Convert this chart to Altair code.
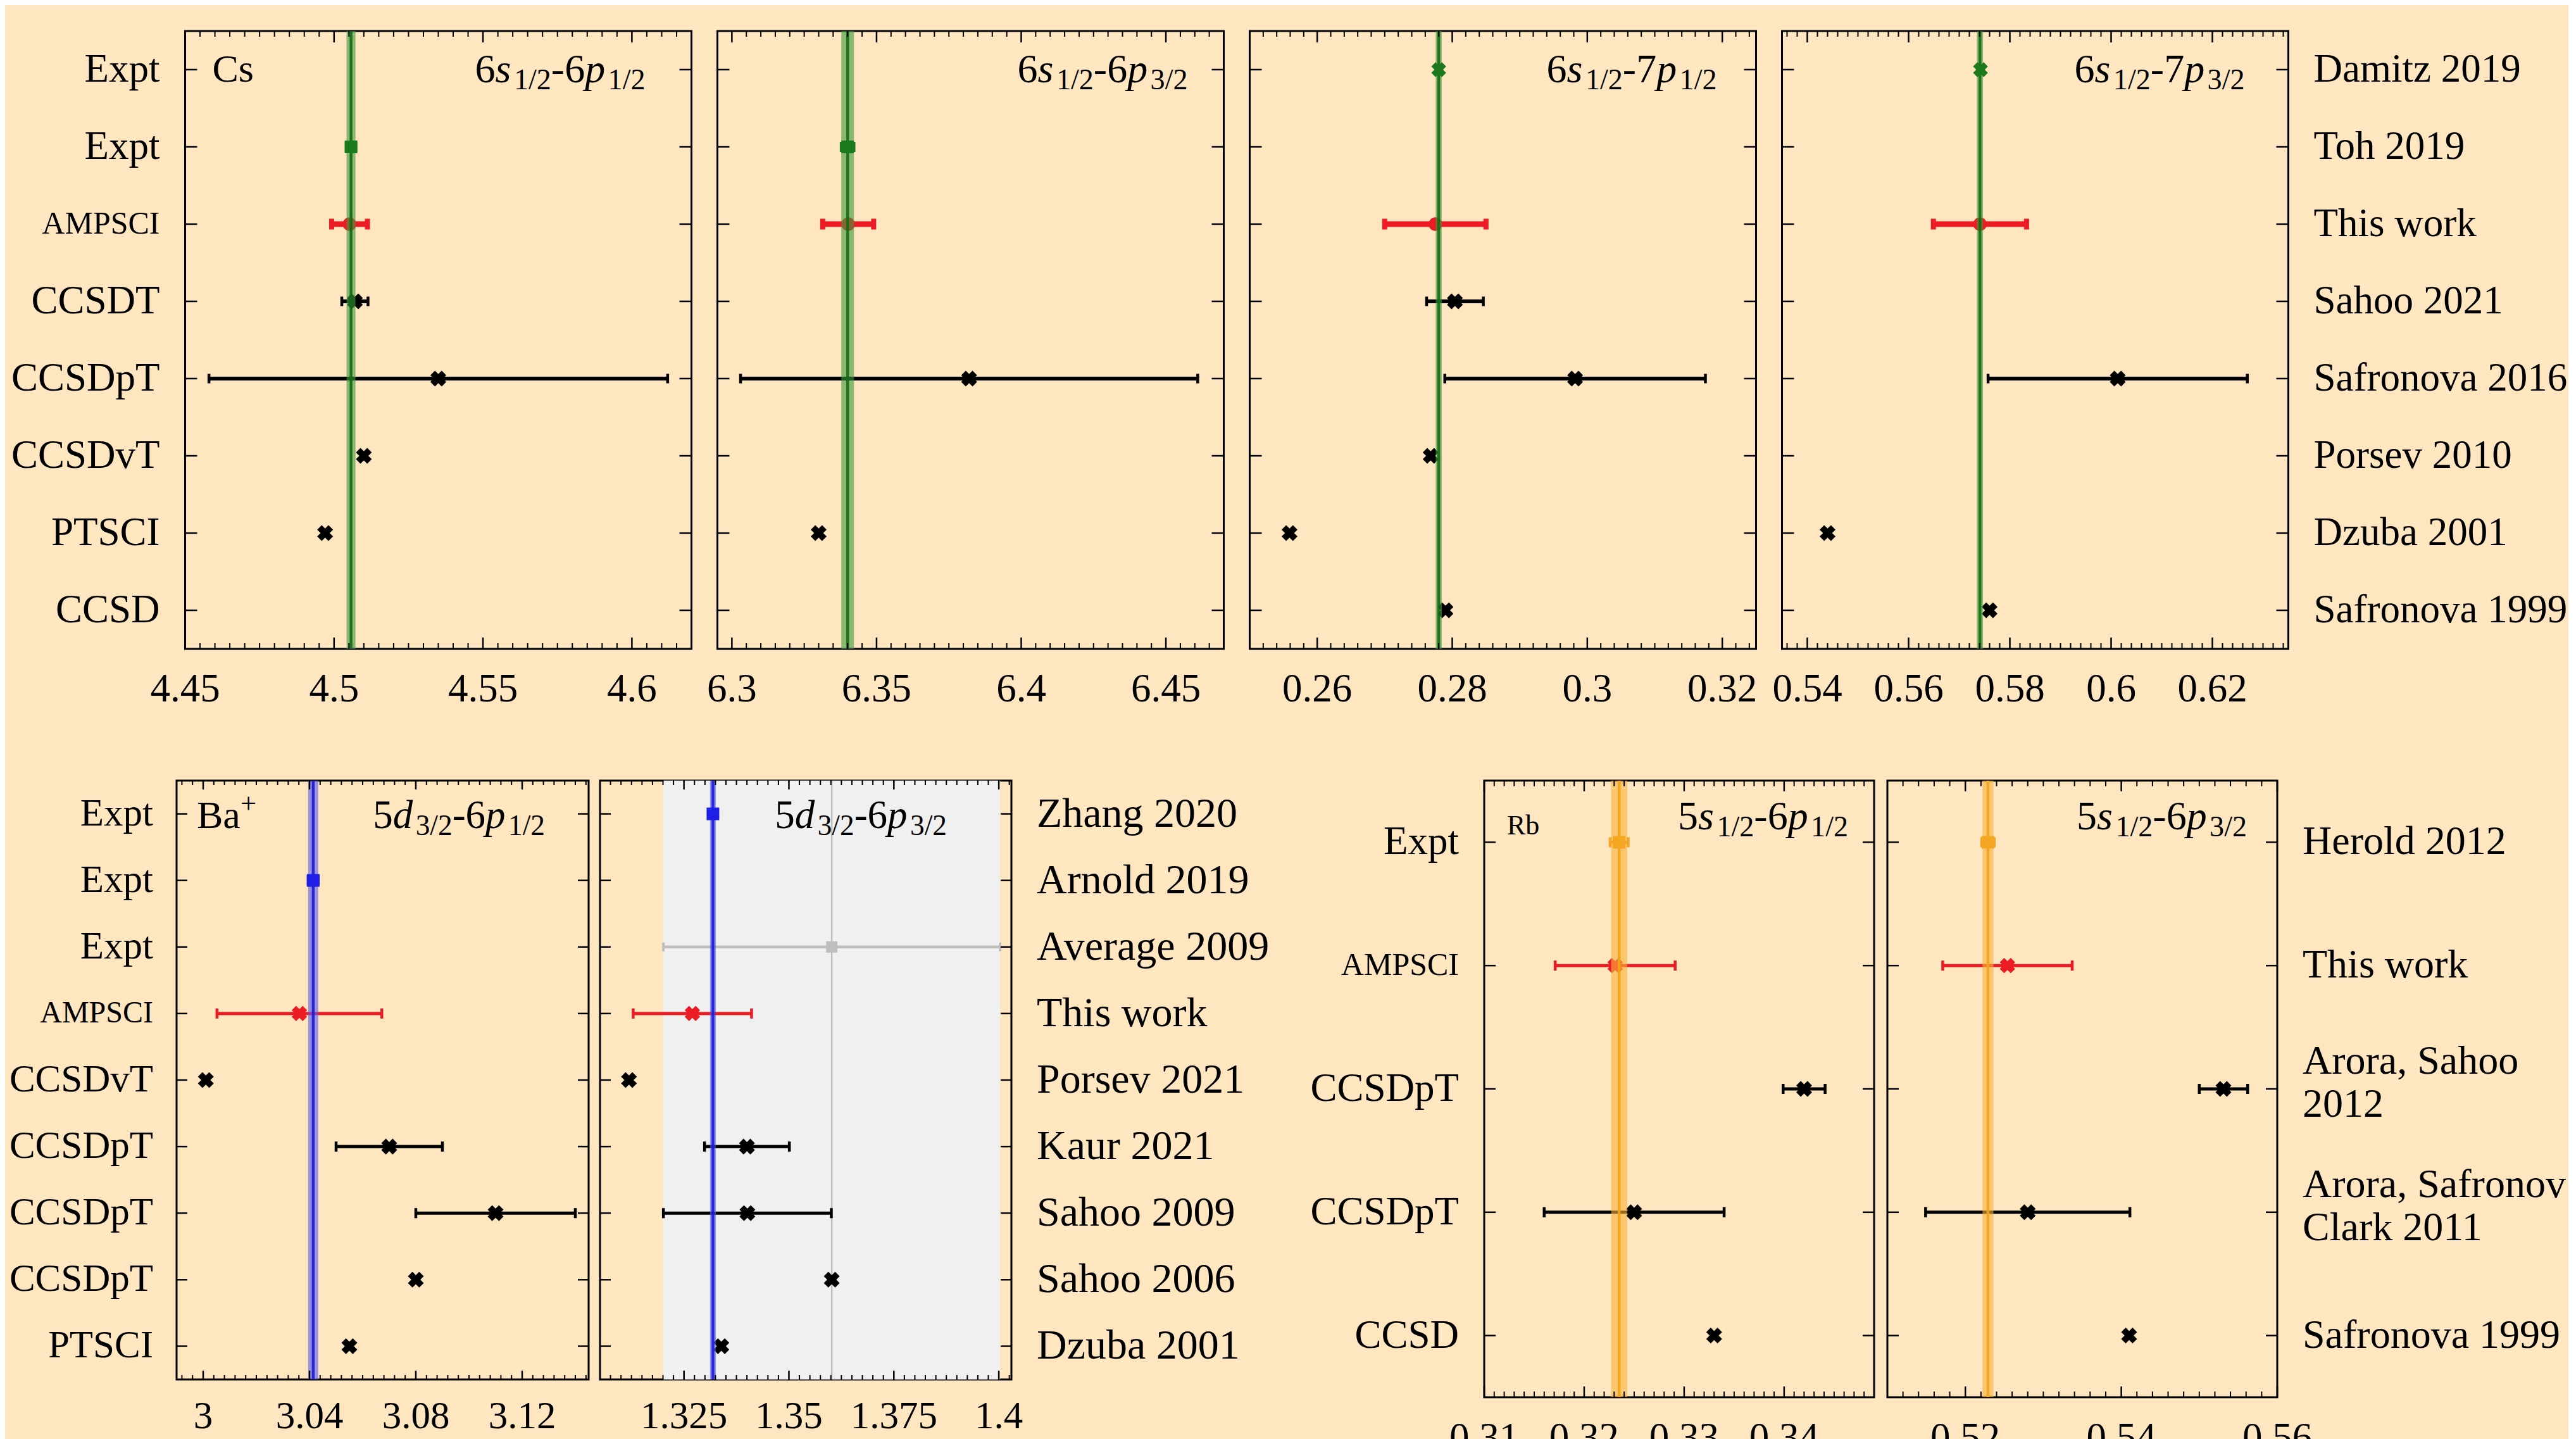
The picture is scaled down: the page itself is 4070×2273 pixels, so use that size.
import math
import pandas as pd
import altair as alt

FONT = "Liberation Serif"
BG = "#FDE6C0"
RED = "#EC1C24"
GREEN = dict(band="#3E9A3E", line="#136B13", pt="#1B7A1B")
BLUE = dict(band="#5A5AF0", line="#1A1AD8", pt="#1E1EE6")
ORANGE = dict(band="#F8B23A", line="#F2A516", pt="#F5A623")
GREY = "#BEBEBE"
SHADE = "#F0F0F0"

# ---------------- data ----------------
cs_methods = ["Expt", "Expt", "AMPSCI", "CCSDT", "CCSDpT", "CCSDvT", "PTSCI", "CCSD"]
cs_refs = ["Damitz 2019", "Toh 2019", "This work", "Sahoo 2021", "Safronova 2016",
           "Porsev 2010", "Dzuba 2001", "Safronova 1999"]
cs_kind = ["exptx", "expt", "ampsci", "theory", "theory", "theory", "theory", "theory"]

cs_6s6p1_val = [None, 4.5057, 4.5052, 4.5070, 4.535, 4.510, 4.497, None]
cs_6s6p1_err = [0, 0.0016, 0.0060, 0.0044, 0.077, 0, 0, 0]
cs_6s6p1_band = [4.5057, 0.0015]

cs_6s6p3_val = [None, 6.3400, 6.3402, None, 6.382, None, 6.330, None]
cs_6s6p3_err = [0, 0.0022, 0.0088, 0, 0.079, 0, 0, 0]
cs_6s6p3_band = [6.3400, 0.0022]

cs_6s7p1_val = [0.2780, None, 0.2775, 0.2804, 0.2982, 0.2768, 0.2559, 0.2790]
cs_6s7p1_err = [0.00045, 0, 0.0075, 0.0042, 0.0193, 0, 0, 0]
cs_6s7p1_band = [0.2780, 0.00045]

cs_6s7p3_val = [0.5742, None, 0.5741, None, 0.6013, None, 0.5440, 0.5760]
cs_6s7p3_err = [0.0006, 0, 0.0092, 0, 0.0256, 0, 0, 0]
cs_6s7p3_band = [0.5741, 0.0006]

ba_methods = ["Expt", "Expt", "Expt", "AMPSCI", "CCSDvT", "CCSDpT", "CCSDpT", "CCSDpT", "PTSCI"]
ba_refs = ["Zhang 2020", "Arnold 2019", "Average 2009", "This work", "Porsev 2021",
           "Kaur 2021", "Sahoo 2009", "Sahoo 2006", "Dzuba 2001"]
ba_kind = ["expt", "expt", "avg", "ampsci", "theory", "theory", "theory", "theory", "theory"]

ba_5d6p1_val = [None, 3.0414, None, 3.0362, 3.001, 3.070, 3.110, 3.080, 3.055]
ba_5d6p1_err = [0, 0.0019, 0, 0.031, 0, 0.020, 0.030, 0, 0]
ba_5d6p1_band = [3.0414, 0.0019]

ba_5d6p3_val = [1.3319, None, 1.3602, 1.3270, 1.3119, 1.3400, 1.3401, 1.3602, 1.3339]
ba_5d6p3_err = [0.0006, 0, 0.0401, 0.0141, 0, 0.0101, 0.0200, 0, 0]
ba_5d6p3_band = [1.3319, 0.0007]

rb_methods = ["Expt", "AMPSCI", "CCSDpT", "CCSDpT", "CCSD"]
rb_refs = ["Herold 2012", "This work", "Arora, Sahoo\n2012",
           "Arora, Safronova,\nClark 2011", "Safronova 1999"]
rb_kind = ["expt", "ampsci", "theory", "theory", "theory"]

rb_5s6p1_val = [0.3235, 0.3231, 0.3420, 0.3250, 0.3330]
rb_5s6p1_err = [0.0009, 0.0060, 0.0021, 0.0090, 0]
rb_5s6p1_band = [0.3235, 0.0008]

rb_5s6p3_val = [0.5229, 0.5254, 0.5531, 0.5280, 0.5410]
rb_5s6p3_err = [0.0008, 0.0083, 0.0031, 0.0131, 0]
rb_5s6p3_band = [0.5229, 0.0007]

# axis domains, tick labels and minor-tick steps
cs1_dom, cs1_major, cs1_step = [4.45, 4.62], ["4.45", "4.5", "4.55", "4.6"], 0.005
cs2_dom, cs2_major, cs2_step = [6.295, 6.47], ["6.3", "6.35", "6.4", "6.45"], 0.005
cs3_dom, cs3_major, cs3_step = [0.25, 0.325], ["0.26", "0.28", "0.3", "0.32"], 0.002
cs4_dom, cs4_major, cs4_step = [0.535, 0.635], ["0.54", "0.56", "0.58", "0.6", "0.62"], 0.002
ba1_dom, ba1_major, ba1_step = [2.99, 3.145], ["3", "3.04", "3.08", "3.12"], 0.004
ba2_dom, ba2_major, ba2_step = [1.305, 1.403], ["1.325", "1.35", "1.375", "1.4"], 0.0025
rb1_dom, rb1_major, rb1_step = [0.31, 0.349], ["0.31", "0.32", "0.33", "0.34"], 0.001
rb2_dom, rb2_major, rb2_step = [0.51, 0.56], ["0.52", "0.54", "0.56"], 0.002

ONE = pd.DataFrame({"k": [0]})
PAGE_RIGHT = 4061  # keep right-hand labels inside the window

# Times / Liberation Serif advance widths (em)
ROMAN_W = {"/": 0.278, "-": 0.333, "+": 0.564, "C": 0.667, "s": 0.389, "B": 0.667,
           "a": 0.444, "R": 0.667, "b": 0.5}
ITAL_W = {"s": 0.389, "p": 0.5, "d": 0.5}


def char_w(c, ital):
    if c.isdigit():
        return 0.5
    return (ITAL_W if ital else ROMAN_W).get(c, 0.5)


def rich_text(pieces, x, y, size, anchor="right"):
    items = []
    for t, ital, lvl in pieces:
        fs = size if lvl == 0 else size * 0.72
        w = sum(char_w(c, ital) for c in t) * fs + (0.07 * size if ital else 0)
        items.append((t, ital, fs, w, lvl))
    total = sum(it[3] for it in items)
    cur = x - total if anchor == "right" else x
    layers = []
    for t, ital, fs, w, lvl in items:
        yy = y + (0.17 * size if lvl < 0 else (-0.38 * size if lvl > 0 else 0))
        layers.append(
            alt.Chart(ONE).mark_text(
                text=t, font=FONT, fontSize=fs,
                fontStyle="italic" if ital else "normal",
                align="left", baseline="alphabetic", color="black"
            ).encode(x=alt.value(cur), y=alt.value(yy))
        )
        cur += w
    return layers


def transition(a, la, b, lb, sub1, sub2):
    return [(a, False, 0), (la, True, 0), (sub1, False, -1),
            ("-" + b, False, 0), (lb, True, 0), (sub2, False, -1)]


def minor_ticks(dom, step, major):
    k0 = math.ceil(dom[0] / step - 1e-9)
    k1 = math.floor(dom[1] / step + 1e-9)
    vals = [round(k * step, 6) for k in range(k0, k1 + 1)]
    return [v for v in vals if all(abs(v - m) > step * 0.01 for m in major)]


def make_panel(vals, errs, kinds, band, colors, dom, major_lab, step, W, H, st,
               left=None, right=None, right_x=None, annots=(), shade=False):
    n = len(vals)
    major = [float(s) for s in major_lab]
    xs = alt.Scale(domain=dom, nice=False, zero=False)
    ys = alt.Scale(domain=[-0.5, n - 0.5], reverse=True, nice=False, zero=False)

    def X(f):
        return alt.X(f + ":Q", scale=xs, axis=None)

    Y = alt.Y("r:Q", scale=ys, axis=None)

    rows = []
    for i, (v, e, k) in enumerate(zip(vals, errs, kinds)):
        if v is None:
            continue
        rows.append(dict(r=i, v=v, e=e, lo=v - e, hi=v + e, kind=k))
    df = pd.DataFrame(rows)
    theory = df[df.kind == "theory"]
    theory_e = theory[theory.e > 0]
    amp = df[df.kind == "ampsci"]
    expt = df[df.kind.isin(["expt", "exptx"])]
    expt_sq = df[df.kind == "expt"]
    expt_x = df[df.kind == "exptx"]
    avg = df[df.kind == "avg"]
    bdf = pd.DataFrame({"c": [band[0]], "lo": [band[0] - band[1]], "hi": [band[0] + band[1]]})

    layers = []
    if shade and len(avg):
        layers.append(alt.Chart(avg).mark_rect(color=SHADE).encode(x=X("lo"), x2="hi"))
        layers.append(alt.Chart(avg).mark_rule(color=GREY, strokeWidth=2.5).encode(x=X("v")))
    # black theory error bars and markers
    layers.append(alt.Chart(theory_e).mark_rule(color="black", strokeWidth=st["err_w"]).encode(
        x=X("lo"), x2="hi", y=Y))
    for f in ("lo", "hi"):
        layers.append(alt.Chart(theory_e).mark_tick(
            orient="vertical", size=st["cap"], thickness=st["cap_w"], color="black", opacity=1
        ).encode(x=X(f), y=Y))
    layers.append(alt.Chart(theory).mark_point(
        shape="cross", angle=45, filled=True, size=640, color="black", opacity=1
    ).encode(x=X("v"), y=Y))
    # red AMPSCI
    layers.append(alt.Chart(amp).mark_rule(color=RED, strokeWidth=st["red_w"]).encode(
        x=X("lo"), x2="hi", y=Y))
    for f in ("lo", "hi"):
        layers.append(alt.Chart(amp).mark_tick(
            orient="vertical", size=st["red_cap"], thickness=st["red_cap_w"], color=RED, opacity=1
        ).encode(x=X(f), y=Y))
    if st["red_marker"] == "circle":
        layers.append(alt.Chart(amp).mark_point(
            shape="circle", filled=True, size=460, color=RED, opacity=1).encode(x=X("v"), y=Y))
    else:
        layers.append(alt.Chart(amp).mark_point(
            shape="cross", angle=45, filled=True, size=600, color=RED, opacity=1
        ).encode(x=X("v"), y=Y))
    # grey average
    if len(avg):
        layers.append(alt.Chart(avg).mark_rule(color=GREY, strokeWidth=4.5).encode(
            x=X("lo"), x2="hi", y=Y))
        for f in ("lo", "hi"):
            layers.append(alt.Chart(avg).mark_tick(
                orient="vertical", size=14, thickness=4, color=GREY, opacity=1
            ).encode(x=X(f), y=Y))
        layers.append(alt.Chart(avg).mark_point(
            shape="square", filled=True, size=320, color=GREY, opacity=1).encode(x=X("v"), y=Y))
    # experimental band
    layers.append(alt.Chart(bdf).mark_rect(color=colors["band"], opacity=0.6).encode(
        x=X("lo"), x2="hi"))
    layers.append(alt.Chart(bdf).mark_rule(color=colors["line"], strokeWidth=4.5, opacity=0.9).encode(
        x=X("c")))
    # experimental points
    layers.append(alt.Chart(expt).mark_rule(color=colors["pt"], strokeWidth=5).encode(
        x=X("lo"), x2="hi", y=Y))
    for f in ("lo", "hi"):
        layers.append(alt.Chart(expt).mark_tick(
            orient="vertical", size=16, thickness=4.5, color=colors["pt"], opacity=1
        ).encode(x=X(f), y=Y))
    layers.append(alt.Chart(expt_sq).mark_point(
        shape="square", filled=True, size=400, color=colors["pt"], opacity=1).encode(x=X("v"), y=Y))
    layers.append(alt.Chart(expt_x).mark_point(
        shape="cross", angle=45, filled=True, size=560, color=colors["pt"], opacity=1
    ).encode(x=X("v"), y=Y))

    # inward ticks
    maj = pd.DataFrame({"v": major, "lab": major_lab})
    mnr = pd.DataFrame({"v": minor_ticks(dom, step, major)})
    Lmaj, Lmin = st["Lmaj"], st["Lmin"]
    for yy in (H - Lmaj / 2, Lmaj / 2):
        layers.append(alt.Chart(maj).mark_tick(orient="vertical", size=Lmaj, thickness=2.5,
                                               color="black", opacity=1).encode(
            x=X("v"), y=alt.value(yy)))
    for yy in (H - Lmin / 2, Lmin / 2):
        layers.append(alt.Chart(mnr).mark_tick(orient="vertical", size=Lmin, thickness=2,
                                               color="black", opacity=1).encode(
            x=X("v"), y=alt.value(yy)))
    yt = pd.DataFrame({"r": list(range(n))})
    Ly = st["Ly"]
    for xx in (Ly / 2, W - Ly / 2):
        layers.append(alt.Chart(yt).mark_tick(orient="horizontal", size=Ly, thickness=2.5,
                                              color="black", opacity=1).encode(
            y=Y, x=alt.value(xx)))

    # x tick labels
    layers.append(alt.Chart(maj).mark_text(
        font=FONT, fontSize=st["tick_fs"], align="center", baseline="alphabetic", color="black"
    ).encode(x=X("v"), y=alt.value(H + st["tick_off"]), text="lab:N"))

    # row labels
    if left is not None:
        ldf = pd.DataFrame({"r": list(range(n)), "t": left})
        normal = ldf[ldf.t != "AMPSCI"]
        small = ldf[ldf.t == "AMPSCI"]
        layers.append(alt.Chart(normal).mark_text(
            font=FONT, fontSize=st["lab_fs"], align="right", baseline="middle", color="black"
        ).encode(y=Y, x=alt.value(-st["lab_off"]), text="t:N"))
        layers.append(alt.Chart(small).mark_text(
            font=FONT, fontSize=st["amp_fs"], align="right", baseline="middle", color="black"
        ).encode(y=Y, x=alt.value(-st["lab_off"]), text="t:N"))
    if right is not None:
        rdf = pd.DataFrame({"r": list(range(n)), "t": right})
        multi = rdf[rdf.t.str.contains("\n")]
        single = rdf[~rdf.t.str.contains("\n")]
        lim = PAGE_RIGHT - (right_x + 40)
        layers.append(alt.Chart(single).mark_text(
            font=FONT, fontSize=st["ref_fs"], align="left", baseline="middle", color="black",
            limit=lim, ellipsis="\u200b"
        ).encode(y=Y, x=alt.value(W + 40), text="t:N"))
        layers.append(alt.Chart(multi).mark_text(
            font=FONT, fontSize=st["ref_fs"], align="left", baseline="middle", color="black",
            lineBreak="\n", lineHeight=68, dy=-43, limit=lim, ellipsis="\u200b"
        ).encode(y=Y, x=alt.value(W + 40), text="t:N"))

    for a in annots:
        layers.extend(a)
    return alt.layer(*layers).properties(width=W, height=H)


def spacer(w, h):
    return alt.Chart(ONE).mark_rect(opacity=0).encode(
        x=alt.value(0), x2=alt.value(w), y=alt.value(0), y2=alt.value(h)
    ).properties(width=w, height=h, view=alt.ViewBackground(stroke="transparent"))


TOP = dict(Lmaj=18, Lmin=9, Ly=19, tick_fs=63, tick_off=83, lab_fs=63, amp_fs=50, ref_fs=63,
           lab_off=40, err_w=6, cap=15, cap_w=4.5, red_w=9, red_cap=17, red_cap_w=8,
           red_marker="circle")
BA = dict(Lmaj=14, Lmin=7, Ly=17, tick_fs=61, tick_off=77, lab_fs=61, amp_fs=48, ref_fs=66,
          lab_off=37, err_w=5, cap=16, cap_w=4.5, red_w=5, red_cap=16, red_cap_w=4.5,
          red_marker="x")
RB = dict(Lmaj=17, Lmin=9, Ly=18, tick_fs=63, tick_off=84, lab_fs=63, amp_fs=50, ref_fs=64,
          lab_off=40, err_w=5, cap=16, cap_w=4.5, red_w=5, red_cap=16, red_cap_w=4.5,
          red_marker="x")

TW, TH = 800, 976
BW1, BW2, BH = 651, 650, 946
RW, RH = 616, 974

cs1 = make_panel(cs_6s6p1_val, cs_6s6p1_err, cs_kind, cs_6s6p1_band, GREEN, cs1_dom, cs1_major,
                 cs1_step, TW, TH, TOP, left=cs_methods,
                 annots=[rich_text([("Cs", False, 0)], 43, 80, 62, "left"),
                         rich_text(transition("6", "s", "6", "p", "1/2", "1/2"), 727, 81, 64)])
cs2 = make_panel(cs_6s6p3_val, cs_6s6p3_err, cs_kind, cs_6s6p3_band, GREEN, cs2_dom, cs2_major,
                 cs2_step, TW, TH, TOP,
                 annots=[rich_text(transition("6", "s", "6", "p", "1/2", "3/2"), 743, 81, 64)])
cs3 = make_panel(cs_6s7p1_val, cs_6s7p1_err, cs_kind, cs_6s7p1_band, GREEN, cs3_dom, cs3_major,
                 cs3_step, TW, TH, TOP,
                 annots=[rich_text(transition("6", "s", "7", "p", "1/2", "1/2"), 738, 81, 64)])
cs4 = make_panel(cs_6s7p3_val, cs_6s7p3_err, cs_kind, cs_6s7p3_band, GREEN, cs4_dom, cs4_major,
                 cs4_step, TW, TH, TOP, right=cs_refs, right_x=3618,
                 annots=[rich_text(transition("6", "s", "7", "p", "1/2", "3/2"), 731, 81, 64)])

ba1 = make_panel(ba_5d6p1_val, ba_5d6p1_err, ba_kind, ba_5d6p1_band, BLUE, ba1_dom, ba1_major,
                 ba1_step, BW1, BH, BA, left=ba_methods,
                 annots=[rich_text([("Ba", False, 0), ("+", False, 1)], 32, 75, 62, "left"),
                         rich_text(transition("5", "d", "6", "p", "3/2", "1/2"), 582, 75, 63)])
ba2 = make_panel(ba_5d6p3_val, ba_5d6p3_err, ba_kind, ba_5d6p3_band, BLUE, ba2_dom, ba2_major,
                 ba2_step, BW2, BH, BA, right=ba_refs, right_x=1593, shade=True,
                 annots=[rich_text(transition("5", "d", "6", "p", "3/2", "3/2"), 548, 75, 63)])

rb1 = make_panel(rb_5s6p1_val, rb_5s6p1_err, rb_kind, rb_5s6p1_band, ORANGE, rb1_dom, rb1_major,
                 rb1_step, RW, RH, RB, left=rb_methods,
                 annots=[rich_text([("Rb", False, 0)], 36, 85, 44, "left"),
                         rich_text(transition("5", "s", "6", "p", "1/2", "1/2"), 575, 77, 64)])
rb2 = make_panel(rb_5s6p3_val, rb_5s6p3_err, rb_kind, rb_5s6p3_band, ORANGE, rb2_dom, rb2_major,
                 rb2_step, RW, RH, RB, right=rb_refs, right_x=3597,
                 annots=[rich_text(transition("5", "s", "6", "p", "1/2", "3/2"), 568, 77, 64)])

row1 = alt.hconcat(
    spacer(1, TH),
    alt.hconcat(cs1, cs2, cs3, cs4, spacing=41, bounds="flush"),
    spacing=2.5,
)
row2 = alt.hconcat(
    spacer(1, BH),
    alt.hconcat(
        alt.hconcat(ba1, ba2, spacing=18, bounds="flush"),
        alt.hconcat(rb1, rb2, spacing=21, bounds="flush"),
        spacing=61,
    ),
    spacing=0,
)

chart = alt.vconcat(row1, row2, spacing=106).properties(
    padding={"left": 0, "top": 37, "right": 0, "bottom": 0}
).configure(
    background=BG, font=FONT
).configure_view(
    stroke="black", strokeWidth=3
)

chart.save("out.html", embed_options={"renderer": "svg", "actions": False})
